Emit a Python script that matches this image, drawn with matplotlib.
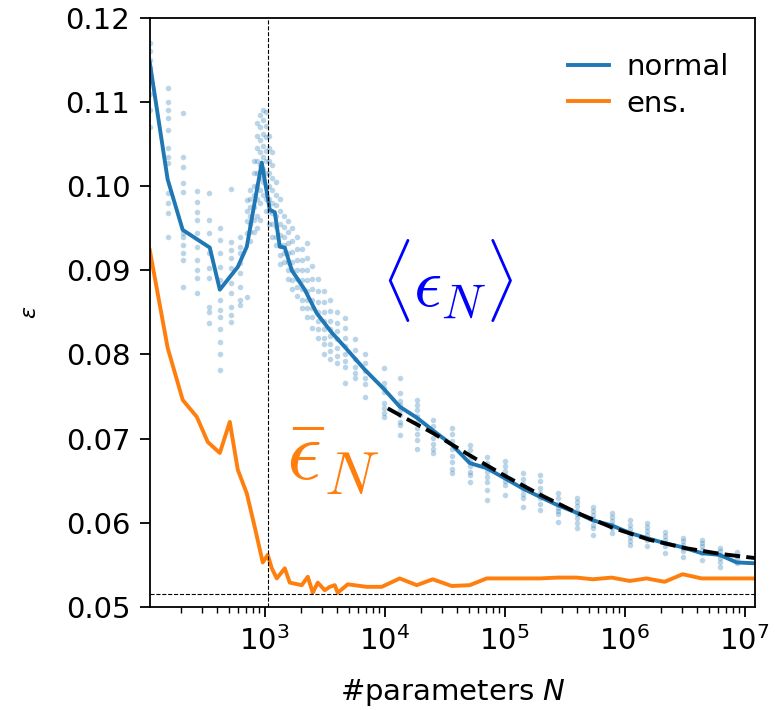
import matplotlib
matplotlib.use("Agg")
import matplotlib.pyplot as plt
import numpy as np

# mean curve of the normal networks
N_normal = [110, 155, 207, 348, 422, 596, 708, 944, 1101, 1212,
            1334, 1468, 1679, 2154, 2712, 3616, 4642, 6813, 1e4, 13335,
            18478, 25119, 36180, 51100, 70800, 1e5, 141000, 196000, 276000, 398000,
            541000, 780000, 1.10e6, 1.52e6, 2.15e6, 3.04e6, 4.38e6, 6.19e6, 8.58e6, 1.21e7]
eps_normal = [0.1147, 0.1008, 0.0948, 0.0927, 0.0877, 0.0904, 0.0928, 0.1028, 0.0972, 0.0969,
              0.0928, 0.0927, 0.0900, 0.0877, 0.0849, 0.0826, 0.0809, 0.0782, 0.0758, 0.0738,
              0.0725, 0.0710, 0.0693, 0.0671, 0.0665, 0.0653, 0.0641, 0.0631, 0.0621, 0.0612,
              0.0603, 0.0597, 0.0588, 0.0582, 0.0576, 0.0571, 0.0564, 0.0562, 0.0553, 0.0552]

# ensemble curve
N_ens = [110, 155, 207, 271, 335, 422, 511, 596, 708, 825,
         962, 1059, 1144, 1259, 1468, 1616, 2034, 2283, 2512, 2765,
         3162, 3481, 3831, 4058, 4917, 7079, 9441, 13335, 18478, 25119,
         36180, 51100, 70800, 1e5, 141000, 196000, 276000, 398000, 541000, 780000,
         1.10e6, 1.52e6, 2.15e6, 3.04e6, 4.38e6, 6.19e6, 8.58e6, 1.21e7]
eps_ens = [0.0924, 0.0808, 0.0746, 0.0726, 0.0696, 0.0683, 0.0720, 0.0663, 0.0635, 0.0595,
           0.0553, 0.0562, 0.0546, 0.0534, 0.0546, 0.0529, 0.0526, 0.0536, 0.0517, 0.0529,
           0.0520, 0.0524, 0.0526, 0.0517, 0.0527, 0.0524, 0.0524, 0.0534, 0.0526, 0.0533,
           0.0525, 0.0526, 0.0534, 0.0534, 0.0534, 0.0534, 0.0535, 0.0535, 0.0533, 0.0535,
           0.0531, 0.0534, 0.0530, 0.0539, 0.0534, 0.0534, 0.0534, 0.0534]

# power-law fit (dashed)
N_fit = [1.06e4, 1.5e4, 2.5e4, 5e4, 1e5, 2e5, 4e5, 8e5, 1.6e6, 3.2e6, 6.4e6, 1.25e7]
eps_fit = [0.0736, 0.0724, 0.0707, 0.0681, 0.0656, 0.0633, 0.0612, 0.0594, 0.0580, 0.0570, 0.0563, 0.0558]

# single runs
N_runs = [110, 155, 207, 272, 340, 422, 520, 620, 710,
          750, 810, 860, 910, 960, 1020, 1080, 1140, 1240, 1330,
          1440, 1560, 1680, 1850, 2030, 2240, 2460, 2760, 3100, 3480,
          3980, 4640, 5620, 6810,
          9800, 13335, 18478, 25119, 36180, 51100, 70800, 1e5, 141000, 196000,
          276000, 398000, 541000, 780000, 1.10e6, 1.52e6, 2.15e6, 3.04e6, 4.38e6, 6.19e6, 8.58e6]
eps_runs = [
    [0.1170, 0.1160, 0.1150, 0.1140, 0.1125, 0.1110, 0.1090, 0.1070],
    [0.1117, 0.1100, 0.1091, 0.1081, 0.1067, 0.1045, 0.1035, 0.1028, 0.0992, 0.0980, 0.0968, 0.0939],
    [0.1087, 0.1034, 0.1023, 0.1004, 0.0993, 0.0944, 0.0940, 0.0930, 0.0920, 0.0912, 0.0880],
    [0.0994, 0.0981, 0.0969, 0.0960, 0.0944, 0.0928, 0.0912, 0.0900, 0.0891, 0.0873],
    [0.0992, 0.0960, 0.0944, 0.0921, 0.0903, 0.0891, 0.0857, 0.0850, 0.0838],
    [0.0950, 0.0936, 0.0921, 0.0904, 0.0889, 0.0865, 0.0853, 0.0845, 0.0830, 0.0815, 0.0800, 0.0782],
    [0.0996, 0.0934, 0.0924, 0.0915, 0.0903, 0.0885, 0.0873, 0.0857, 0.0847, 0.0839],
    [0.0940, 0.0928, 0.0921, 0.0909, 0.0897, 0.0880, 0.0865, 0.0859],
    [0.0984, 0.0970, 0.0958, 0.0944, 0.0868],
    [0.0995, 0.0985, 0.0975, 0.0965, 0.0955, 0.0945, 0.0935],
    [0.1030, 0.1015, 0.1000, 0.0990, 0.0975, 0.0960, 0.0945],
    [0.1075, 0.1060, 0.1045, 0.1030, 0.1015, 0.1000, 0.0985, 0.0965, 0.0950],
    [0.1085, 0.1070, 0.1055, 0.1040, 0.1025, 0.1010, 0.0995, 0.0980, 0.0960],
    [0.1090, 0.1078, 0.1062, 0.1048, 0.1035, 0.1020, 0.1005, 0.0990],
    [0.1088, 0.1072, 0.1058, 0.1042, 0.1030, 0.1015, 0.1000, 0.0985, 0.0970],
    [0.1060, 0.1045, 0.1030, 0.1015, 0.1000, 0.0985, 0.0970, 0.0955],
    [0.1040, 0.1025, 0.1010, 0.0995, 0.0980, 0.0968, 0.0955, 0.0940],
    [0.1005, 0.0990, 0.0978, 0.0965, 0.0952, 0.0940, 0.0930],
    [0.0985, 0.0970, 0.0955, 0.0942, 0.0930, 0.0918, 0.0908],
    [0.0965, 0.0952, 0.0940, 0.0930, 0.0920, 0.0910],
    [0.0958, 0.0945, 0.0932, 0.0920, 0.0910, 0.0900, 0.0890],
    [0.0950, 0.0935, 0.0922, 0.0910, 0.0900, 0.0888, 0.0878],
    [0.0940, 0.0925, 0.0912, 0.0900, 0.0890, 0.0880, 0.0870],
    [0.0925, 0.0912, 0.0900, 0.0888, 0.0878, 0.0865, 0.0855],
    [0.0933, 0.0915, 0.0900, 0.0888, 0.0876, 0.0865, 0.0855, 0.0845],
    [0.0905, 0.0890, 0.0878, 0.0865, 0.0855, 0.0845, 0.0832],
    [0.0890, 0.0875, 0.0862, 0.0850, 0.0840, 0.0830, 0.0820],
    [0.0875, 0.0862, 0.0850, 0.0840, 0.0830, 0.0820, 0.0812, 0.0800],
    [0.0865, 0.0852, 0.0840, 0.0830, 0.0822, 0.0812, 0.0804, 0.0795],
    [0.0850, 0.0838, 0.0828, 0.0818, 0.0808, 0.0798, 0.0790],
    [0.0843, 0.0832, 0.0820, 0.0810, 0.0800, 0.0792, 0.0785, 0.0766],
    [0.0818, 0.0805, 0.0795, 0.0785, 0.0778, 0.0772],
    [0.0800, 0.0790, 0.0780, 0.0772, 0.0765, 0.0750],
    [0.0784, 0.0766, 0.0760, 0.0756, 0.0742, 0.0736, 0.0730, 0.0726],
    [0.0772, 0.0754, 0.0745, 0.0740, 0.0734, 0.0728, 0.0720, 0.0716, 0.0704],
    [0.0746, 0.0740, 0.0734, 0.0727, 0.0720, 0.0713, 0.0706, 0.0698, 0.0688],
    [0.0722, 0.0715, 0.0708, 0.0701, 0.0694, 0.0688, 0.0683],
    [0.0713, 0.0705, 0.0697, 0.0688, 0.0680, 0.0672, 0.0664, 0.0659],
    [0.0692, 0.0686, 0.0680, 0.0673, 0.0667, 0.0660, 0.0657, 0.0648],
    [0.0678, 0.0671, 0.0665, 0.0660, 0.0654, 0.0648, 0.0639, 0.0627],
    [0.0674, 0.0668, 0.0662, 0.0657, 0.0650, 0.0645, 0.0633],
    [0.0659, 0.0652, 0.0646, 0.0640, 0.0634, 0.0629, 0.0619],
    [0.0657, 0.0650, 0.0642, 0.0636, 0.0630, 0.0622, 0.0615],
    [0.0635, 0.0629, 0.0623, 0.0618, 0.0614, 0.0610, 0.0601],
    [0.0630, 0.0625, 0.0620, 0.0614, 0.0610, 0.0606, 0.0600, 0.0594],
    [0.0619, 0.0614, 0.0609, 0.0604, 0.0598, 0.0594, 0.0586],
    [0.0612, 0.0607, 0.0602, 0.0598, 0.0594, 0.0588],
    [0.0603, 0.0598, 0.0593, 0.0588, 0.0583, 0.0578, 0.0574],
    [0.0600, 0.0595, 0.0590, 0.0585, 0.0580, 0.0572],
    [0.0589, 0.0584, 0.0580, 0.0576, 0.0572, 0.0564],
    [0.0582, 0.0578, 0.0574, 0.0570, 0.0566, 0.0560],
    [0.0580, 0.0576, 0.0572, 0.0568, 0.0564, 0.0556],
    [0.0570, 0.0566, 0.0562, 0.0558, 0.0553, 0.0547],
    [0.0565, 0.0561, 0.0557, 0.0552],
]

N_interp = 1060      # vertical dashed line
eps_min = 0.0515     # horizontal dashed line

fig = plt.figure(figsize=(7.8, 7.1), dpi=100)
ax = fig.add_axes([0.192, 0.145, 0.776, 0.830])

xs = np.repeat(N_runs, [len(v) for v in eps_runs])
ys = np.concatenate([np.array(v) for v in eps_runs])
ax.scatter(xs, ys, s=16, color='C0', alpha=0.3, linewidths=0)

ax.plot(N_normal, eps_normal, color='C0', lw=2.8, label='normal')
ax.plot(N_ens, eps_ens, color='C1', lw=2.8, label='ens.')
ax.plot(N_fit, eps_fit, color='k', lw=2.8, ls=(0, (4, 1.6)))

ax.axvline(N_interp, color='k', lw=0.8, ls='--')
ax.axhline(eps_min, color='k', lw=0.8, ls='--')

ax.text(3.29e4, 0.0888, r'$\langle\epsilon_N\rangle$', color='blue', fontsize=50,
        ha='center', va='center', math_fontfamily='cm')
ax.text(3.69e3, 0.0678, r'$\bar{\epsilon}_N$', color='C1', fontsize=62,
        ha='center', va='center', math_fontfamily='cm')

ax.set_xscale('log')
ax.set_xlim(110, 1.22e7)
ax.set_ylim(0.05, 0.12)
ax.set_yticks([0.05, 0.06, 0.07, 0.08, 0.09, 0.10, 0.11, 0.12])
ax.set_yticklabels(['0.05', '0.06', '0.07', '0.08', '0.09', '0.10', '0.11', '0.12'])
ax.tick_params(labelsize=21, length=7, width=1.3, pad=7)
ax.tick_params(which='minor', length=4, width=1)
for s in ax.spines.values():
    s.set_linewidth(1.3)

ax.set_xlabel(r'#parameters $N$', fontsize=21, labelpad=15)
ax.set_ylabel(r'$\varepsilon$', fontsize=16, labelpad=18)
ax.legend(loc='upper right', bbox_to_anchor=(1.0, 0.985), frameon=False,
          fontsize=21, handlelength=1.4, handletextpad=0.6, labelspacing=0.3)

fig.savefig('out.png', dpi=100)
